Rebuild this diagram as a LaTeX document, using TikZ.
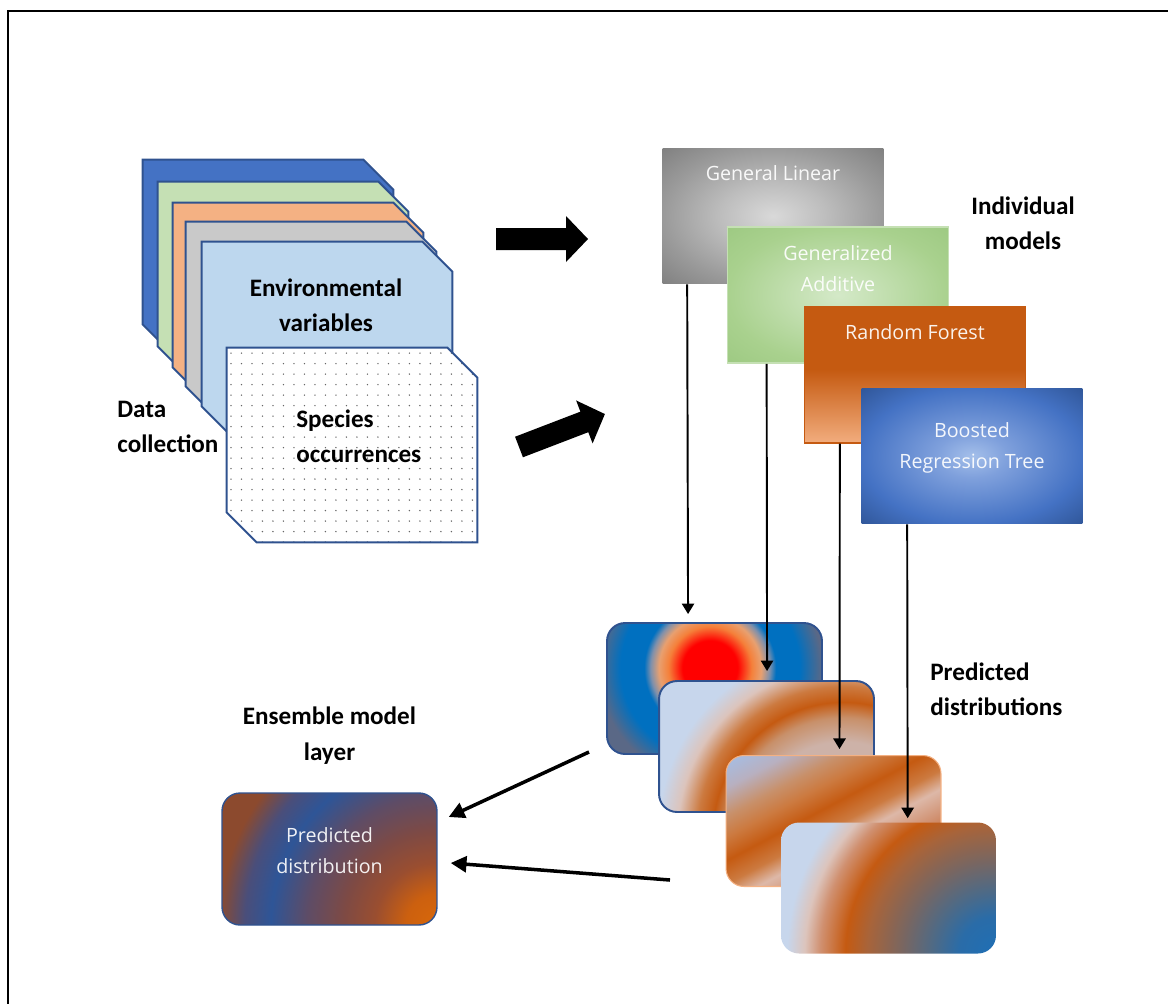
\documentclass[tikz,border=0pt]{standalone}
\usepackage{fontspec}
\setmainfont{Carlito}
\newfontfamily\boxfont{Open Sans}
\usetikzlibrary{arrows.meta,positioning,calc,patterns.meta}

% layer colours
\definecolor{lyblue}{HTML}{4472C4}
\definecolor{lygreen}{HTML}{C5E0B4}
\definecolor{lyorange}{HTML}{F4B183}
\definecolor{lygrey}{HTML}{C9C9C9}
\definecolor{lyenv}{HTML}{BDD7EE}
\definecolor{lyedge}{HTML}{2F528F}
% model colours
\definecolor{glmid}{HTML}{D9D9D9}
\definecolor{glring}{HTML}{BDBDBD}
\definecolor{glout}{HTML}{9A9A9A}
\definecolor{gledge}{HTML}{7F7F7F}
\definecolor{gamid}{HTML}{D4E9C8}
\definecolor{gaout}{HTML}{A9D18E}
\definecolor{gaedge}{HTML}{9DC982}
\definecolor{rfdark}{HTML}{C55A11}
\definecolor{rflight}{HTML}{F2AD7E}
\definecolor{btmid}{HTML}{A4BFEA}
\definecolor{btring}{HTML}{7FA0DC}
\definecolor{btout}{HTML}{4472C4}
\definecolor{btedge}{HTML}{2F5597}
% distribution colours
\definecolor{dsred}{HTML}{FF0000}
\definecolor{dsorange}{HTML}{F5803A}
\definecolor{dspeach}{HTML}{E8A070}
\definecolor{dsmist}{HTML}{7E90AC}
\definecolor{dsblue}{HTML}{0070C0}
\definecolor{dsslate}{HTML}{5A6886}
\definecolor{dslb}{HTML}{C7D6EC}
\definecolor{dslb2}{HTML}{A4BEE6}
\definecolor{dshaze}{HTML}{B8B0C0}
\definecolor{dspink}{HTML}{DCC4BC}
\definecolor{dsrose}{HTML}{CDB2A8}
\definecolor{dstan}{HTML}{C8906A}
\definecolor{dsamber}{HTML}{CC7A40}
\definecolor{dsor}{HTML}{C55A11}
\definecolor{dslite}{HTML}{DDB8A8}
\definecolor{dsclay}{HTML}{D09070}
\definecolor{dsbrown}{HTML}{A8643A}
\definecolor{dsgrey}{HTML}{7A6660}
\definecolor{dsdusk}{HTML}{4E6A86}
\definecolor{dsnavy}{HTML}{2A6CA8}
\definecolor{dsdeep}{HTML}{1F6FB5}
\definecolor{enbrown}{HTML}{8C4A2E}
\definecolor{enblue}{HTML}{2E5597}
\definecolor{enmid}{HTML}{4A4E7A}
\definecolor{enplum}{HTML}{5E4C66}
\definecolor{enmauve}{HTML}{7E4A44}
\definecolor{enrust}{HTML}{9A4E30}
\definecolor{enor}{HTML}{CC600F}
\definecolor{englow}{HTML}{D8680A}

\pgfdeclareradialshading{glshade}{\pgfpoint{0bp}{0bp}}{color(0bp)=(glmid); color(12bp)=(glring); color(25bp)=(glout); color(36bp)=(gledge); color(50bp)=(gledge)}
\pgfdeclareradialshading{gashade}{\pgfpoint{0bp}{0bp}}{color(0bp)=(gamid); color(25bp)=(gaout); color(36bp)=(gaedge); color(50bp)=(gaedge)}
\pgfdeclareverticalshading{rfshade}{100bp}{color(0bp)=(rflight); color(25bp)=(rflight); color(52bp)=(rfdark); color(100bp)=(rfdark)}
\pgfdeclareradialshading{btshade}{\pgfpoint{0bp}{0bp}}{color(0bp)=(btmid); color(8bp)=(btring); color(25bp)=(btout); color(36bp)=(btedge); color(50bp)=(btedge)}
\pgfdeclareradialshading{dashade}{\pgfpoint{0bp}{0bp}}{color(0bp)=(dsred); color(4.3bp)=(dsred); color(6.5bp)=(dsorange); color(8bp)=(dspeach); color(9.3bp)=(dsmist); color(10.3bp)=(dsblue); color(14bp)=(dsblue); color(17.5bp)=(dsslate); color(50bp)=(dsslate)}
\pgfdeclareradialshading{dbshade}{\pgfpoint{0bp}{0bp}}{color(0bp)=(dsrose); color(8.7bp)=(dsrose); color(11bp)=(dstan); color(12.5bp)=(dsor); color(14bp)=(dsamber); color(15.9bp)=(dspink); color(17.8bp)=(dslb); color(50bp)=(dslb)}
\pgfdeclarehorizontalshading{dcshade}{100bp}{color(0bp)=(dslb2); color(29.4bp)=(dslb2); color(34.6bp)=(dshaze); color(39.4bp)=(dstan); color(43bp)=(dsamber); color(47bp)=(dsor); color(51bp)=(dsamber); color(54.2bp)=(dslite); color(58.7bp)=(dsclay); color(65bp)=(dsor); color(100bp)=(dsor)}
\pgfdeclareradialshading{ddshade}{\pgfpoint{0bp}{0bp}}{color(0bp)=(dsdeep); color(3.5bp)=(dsnavy); color(6bp)=(dsdusk); color(9bp)=(dsgrey); color(12.3bp)=(dsbrown); color(14.4bp)=(dsor); color(16.8bp)=(dsclay); color(18.3bp)=(dspink); color(20bp)=(dslb); color(50bp)=(dslb)}
\pgfdeclareradialshading{enshade}{\pgfpoint{0bp}{0bp}}{color(0bp)=(englow); color(3bp)=(enor); color(6bp)=(enrust); color(9bp)=(enmauve); color(12.5bp)=(enplum); color(16bp)=(enblue); color(18.5bp)=(enmid); color(21bp)=(enbrown); color(50bp)=(enbrown)}

\tikzset{
  layer/.style={rectangle, minimum width=5cm, minimum height=3.88cm, inner sep=0pt},
  layedge/.style={draw=lyedge, line width=1.1pt},
  spots/.style={preaction={fill=white}, pattern={Dots[distance=0.21cm,radius=0.45pt]}, pattern color=gray!80!black},
  model/.style={rectangle, minimum width=4.42cm, minimum height=2.72cm, inner sep=0pt},
  boxtext/.style={font=\boxfont\fontsize{11.2}{17.6}\selectfont, text=white, text opacity=0.92, align=center, inner sep=0pt},
  lbl/.style={font=\bfseries\fontsize{14.3}{20}\selectfont, align=center, inner sep=0pt},
  distbox/.style={rectangle, rounded corners=0.36cm, minimum width=4.3cm, minimum height=2.62cm, inner sep=0pt},
  radfill/.style n args={3}{path picture={\shade[shading=#1]
    ([shift={#2}]path picture bounding box.center) circle[radius=#3];}},
  bandfill/.style 2 args={path picture={\shade[shading=#1, shading angle=#2]
    ([shift={(-130,-130)}]path picture bounding box.center) rectangle +(260,260);}},
  modarrow/.style={line width=1.1pt, -{Triangle[length=6pt,width=7pt]}},
  ensarrow/.style={line width=2pt, -{Triangle[length=9pt,width=9pt]}},
  blockarrow/.style={fill=black},
}

\begin{document}
\begin{tikzpicture}[x=0.02cm, y=-0.02cm]
  \useasboundingbox (0,0) rectangle (1168,1004);
  \draw[line width=1.7pt] (1168,11) -- (8,11) -- (8,1004);

  % data collection stack
  \node[layer] (layblue) at (268,257) {};
  \node[layer] (laygreen) at (283,279) {};
  \node[layer] (layorange) at (298,300) {};
  \node[layer] (laygrey) at (311,319) {};
  \node[layer] (env) at (327,339) {};
  \node[layer] (spec) at (352,445) {};
  \foreach \n/\c in {layblue/lyblue,laygreen/lygreen,layorange/lyorange,laygrey/lygrey,env/lyenv}{
    \filldraw[layedge, fill=\c] (\n.north west) -- ([xshift=-0.6cm]\n.north east) -- ([yshift=-0.6cm]\n.north east)
      -- (\n.south east) -- ([xshift=0.6cm]\n.south west) -- ([yshift=0.6cm]\n.south west) -- cycle;}
  \draw[layedge, spots] (spec.north west) -- ([xshift=-0.6cm]spec.north east) -- ([yshift=-0.6cm]spec.north east)
    -- (spec.south east) -- ([xshift=0.6cm]spec.south west) -- ([yshift=0.6cm]spec.south west) -- cycle;
  \node[lbl] (envlbl) at ([shift={(-1,-34)}]env.center) {Environmental\\variables};
  \node[lbl, anchor=west, align=left] (speclbl) at ([shift={(-56,-9)}]spec.center) {Species\\occurrences};
  \node[lbl, anchor=west, align=left] (datalbl) at (117,427) {Data\\collection};

  % block arrows
  \fill[blockarrow, shift={(496,239)}] (0,-11) -- (70,-11) -- (70,-23) -- (92,0) -- (70,23) -- (70,11) -- (0,11) -- cycle;
  \fill[blockarrow, shift={(519,447)}, rotate=21] (0,-11) -- (70,-11) -- (70,-23) -- (92,0) -- (70,23) -- (70,11) -- (0,11) -- cycle;

  % individual models
  \node[model, shading=glshade, label={[boxtext,yshift=0.86cm]center:General Linear}] (gl) at (773,216) {};
  \node[model, shading=gashade, draw=lygreen, line width=1pt, label={[boxtext,yshift=0.53cm]center:Generalized\\Additive}] (ga) at (838,295) {};
  \node[model, shading=rfshade, draw=rfdark, line width=0.8pt, label={[boxtext,yshift=0.86cm]center:Random Forest}] (rf) at (915,375) {};
  \node[model, shading=btshade, label={[boxtext,yshift=0.17cm]center:Boosted\\Regression Tree}] (brt) at (972,456) {};
  \node[lbl] (indlbl) at (1023,223) {Individual\\models};

  % predicted distributions
  \node[distbox, draw=lyedge, line width=1.1pt, radfill={dashade}{(-4.5,-20.5)}{3.2cm}] (d1) at (714.5,688.5) {};
  \node[distbox, draw=lyedge, line width=1.1pt, radfill={dbshade}{(76.5,85.5)}{5.2cm}] (d2) at (766.5,746.5) {};
  \node[distbox, draw=lyorange, line width=0.6pt, bandfill={dcshade}{-62}] (d3) at (833.5,821) {};
  \node[distbox, radfill={ddshade}{(106.5,65)}{5.2cm}] (d4) at (888.5,888) {};
  \node[lbl, anchor=west, align=left] (predlbl) at (930,689) {Predicted\\distributions};

  \draw[modarrow] ([shift={(25,0)}]gl.south west) -- ([shift={(82,-8)}]d1.north west);
  \draw[modarrow] ([shift={(40,0)}]ga.south west) -- ([shift={(109,-9)}]d2.north west);
  \draw[modarrow] ([shift={(36,0)}]rf.south west) -- ([shift={(114,-6)}]d3.north west);
  \draw[modarrow] ([shift={(46,0)}]brt.south west) -- ([shift={(127,-4)}]d4.north west);

  % ensemble layer
  \node[distbox, minimum height=2.64cm, draw=lyedge, line width=0.8pt, radfill={enshade}{(107.5,66)}{5.2cm},
    label={[boxtext,yshift=0.16cm]center:Predicted\\distribution}] (ens) at (329.5,859) {};
  \node[lbl, above=0.56cm of ens] (enslbl) {Ensemble model\\layer};
  \coordinate (tailA) at (589,752);
  \coordinate (tailB) at (670,880);
  \draw[ensarrow] (tailA) -- ([shift={(11,-42)}]ens.east);
  \draw[ensarrow] (tailB) -- ([shift={(13,4)}]ens.east);
\end{tikzpicture}
\end{document}
